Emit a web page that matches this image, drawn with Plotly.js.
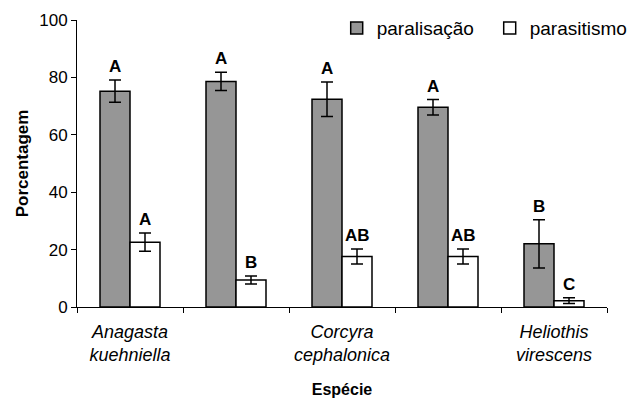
<!DOCTYPE html>
<html>
<head>
<meta charset="utf-8">
<script src="https://cdn.plot.ly/plotly-3.0.1.min.js"></script>
<style>html,body{margin:0;padding:0;background:#fff;}#chart{width:632px;height:398px;}</style>
</head>
<body>
<div id="chart"></div>
<script>
var categories = ["c1", "c2", "c3", "c4", "c5"];
var tickLabels = ["<i>Anagasta</i><br><i>kuehniella</i>", "", "<i>Corcyra</i><br><i>cephalonica</i>", "", "<i>Heliothis</i><br><i>virescens</i>"];
var paralisacao = [75.2, 78.6, 72.4, 69.6, 22.0];
var paralisacaoErr = [3.9, 3.2, 6.0, 2.7, 8.4];
var paralisacaoLetters = ["A", "A", "A", "A", "B"];
var parasitismo = [22.6, 9.4, 17.6, 17.6, 2.2];
var parasitismoErr = [3.2, 1.4, 2.6, 2.6, 1.0];
var parasitismoLetters = ["A", "B", "AB", "AB", "C"];

var traces = [
  {type: "bar", name: "paralisação", x: categories, y: paralisacao,
   marker: {color: "#969696", line: {color: "#000", width: 1.5}},
   error_y: {type: "data", array: paralisacaoErr, visible: true, color: "#000", thickness: 1.5, width: 6}},
  {type: "bar", name: "parasitismo", x: categories, y: parasitismo,
   marker: {color: "#ffffff", line: {color: "#000", width: 1.5}},
   error_y: {type: "data", array: parasitismoErr, visible: true, color: "#000", thickness: 1.5, width: 6}}
];

var annotations = [];
for (var i = 0; i < categories.length; i++) {
  annotations.push({x: categories[i], y: paralisacao[i] + paralisacaoErr[i], text: "<b>" + paralisacaoLetters[i] + "</b>",
    showarrow: false, xshift: -15, yanchor: "bottom", yshift: 2, font: {family: "Arial", size: 17, color: "#000"}});
  annotations.push({x: categories[i], y: parasitismo[i] + parasitismoErr[i], text: "<b>" + parasitismoLetters[i] + "</b>",
    showarrow: false, xshift: 15, yanchor: "bottom", yshift: 2, font: {family: "Arial", size: 17, color: "#000"}});
}

var layout = {
  width: 632, height: 398,
  margin: {l: 77, r: 25, t: 20, b: 91, autoexpand: false},
  paper_bgcolor: "#fff", plot_bgcolor: "#fff",
  font: {family: "Arial", size: 17, color: "#000"},
  barmode: "group", bargap: 0.434, bargroupgap: 0,
  showlegend: true,
  legend: {orientation: "h", x: 0.49, xanchor: "left", y: 0.972, yanchor: "middle",
    font: {family: "Arial", size: 19, color: "#000"}, bgcolor: "rgba(0,0,0,0)", traceorder: "normal",
    entrywidth: 108, entrywidthmode: "pixels"},
  xaxis: {type: "category", tickvals: categories, ticktext: tickLabels, tickson: "boundaries", tickangle: 0,
    ticks: "outside", ticklen: 5, tickcolor: "#000", showline: true, linecolor: "#000", linewidth: 1,
    showgrid: false, zeroline: false, tickfont: {family: "Arial", size: 18}, ticklabelstandoff: 8,
    title: {text: "<b>Espécie</b>", font: {family: "Arial", size: 16}, standoff: 20}},
  yaxis: {range: [0, 100], dtick: 20, ticks: "outside", ticklen: 5, tickcolor: "#000",
    showline: true, linecolor: "#000", linewidth: 1, showgrid: false, zeroline: false,
    tickfont: {family: "Arial", size: 17},
    title: {text: "<b>Porcentagem</b>", font: {family: "Arial", size: 17}, standoff: 6}},
  annotations: annotations
};

Plotly.newPlot("chart", traces, layout, {displayModeBar: false, staticPlot: true});
</script>
</body>
</html>
